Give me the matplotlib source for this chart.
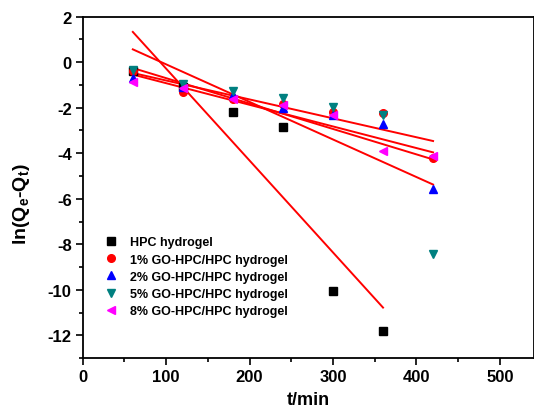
import numpy as np
import matplotlib
matplotlib.use("Agg")
import matplotlib.pyplot as plt
from matplotlib.ticker import MultipleLocator

plt.rcParams['font.family'] = ['Liberation Sans', 'DejaVu Sans']
plt.rcParams['font.weight'] = 'bold'
plt.rcParams['axes.unicode_minus'] = False
plt.rcParams['mathtext.fontset'] = 'custom'
plt.rcParams['mathtext.rm'] = 'Liberation Sans:bold'
plt.rcParams['mathtext.it'] = 'Liberation Sans:bold'
plt.rcParams['mathtext.bf'] = 'Liberation Sans:bold'

t_all = [60, 120, 180, 240, 300, 360, 420]
t_hpc = [60, 120, 180, 240, 300, 360]

hpc = [-0.37, -1.10, -2.17, -2.85, -10.04, -11.82]
go1 = [-0.37, -1.32, -1.61, -1.83, -2.20, -2.24, -4.21]
go2 = [-0.70, -1.10, -1.45, -2.00, -2.30, -2.71, -5.59]
go5 = [-0.34, -0.95, -1.25, -1.58, -1.97, -2.34, -8.41]
go8 = [-0.85, -1.15, -1.60, -1.87, -2.30, -3.90, -4.10]

labels = ["HPC hydrogel", "1% GO-HPC/HPC hydrogel", "2% GO-HPC/HPC hydrogel",
          "5% GO-HPC/HPC hydrogel", "8% GO-HPC/HPC hydrogel"]

fig = plt.figure(figsize=(5.34, 4.10), dpi=100)
ax = fig.add_axes([0.155, 0.124, 0.845, 0.833])

series = [
    (t_hpc, hpc, 's', 'black'),
    (t_all, go1, 'o', '#ff0000'),
    (t_all, go2, '^', '#0000ff'),
    (t_all, go5, 'v', '#008080'),
    (t_all, go8, '<', '#ff00ff'),
]
for (x, y, m, c), lab in zip(series, labels):
    ax.plot(x, y, linestyle='none', marker=m, color=c, markersize=5.5, label=lab, zorder=3)

for (x, y, m, c) in series:
    p = np.polyfit(x, y, 1)
    xs = np.array([x[0], x[-1]])
    ax.plot(xs, np.polyval(p, xs), color='#ff0000', lw=1.4, zorder=2)

ax.set_xlim(0, 541)
ax.set_ylim(-13, 2)
ax.xaxis.set_major_locator(MultipleLocator(100))
ax.xaxis.set_minor_locator(MultipleLocator(50))
ax.yaxis.set_major_locator(MultipleLocator(2))
ax.yaxis.set_minor_locator(MultipleLocator(1))
ax.tick_params(which='both', direction='out', width=1.2, top=False, right=False)
ax.tick_params(which='major', length=5, labelsize=12, pad=3)
ax.tick_params(which='minor', length=3)
for s in ax.spines.values():
    s.set_linewidth(1.3)
for lab in ax.get_xticklabels() + ax.get_yticklabels():
    lab.set_fontweight('bold')

ax.set_xlabel('t/min', fontsize=13, fontweight='bold', labelpad=5)
ax.set_ylabel('ln(Q$_e$-Q$_t$)', fontsize=14, fontweight='bold', labelpad=3)
ax.yaxis.set_label_coords(-0.112, 0.455)

leg = ax.legend(loc='lower left', bbox_to_anchor=(0.035, 0.105), frameon=False,
                fontsize=9, handletextpad=0.9, labelspacing=0.42, handlelength=1.2,
                borderaxespad=0)
for txt in leg.get_texts():
    txt.set_fontweight('bold')

fig.savefig('out.png', dpi=100)
